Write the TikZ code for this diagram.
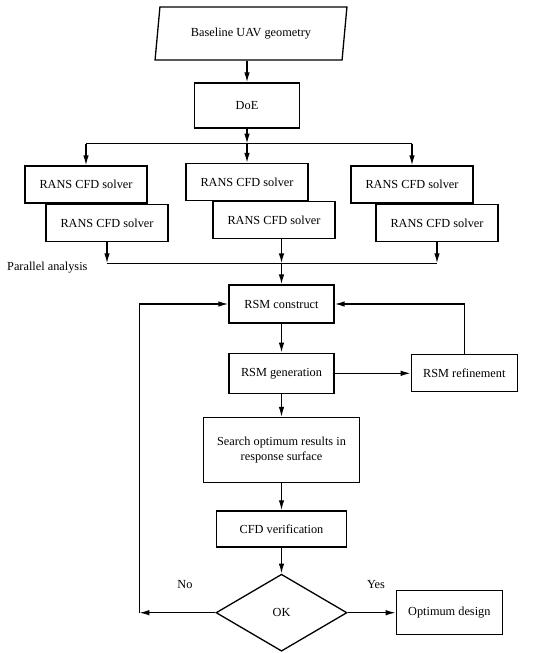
\documentclass[tikz,border=0pt]{standalone}
\usepackage{fontspec}
\setmainfont{Liberation Serif}
\usetikzlibrary{shapes.geometric,arrows.meta,positioning}
\begin{document}
\begin{tikzpicture}[x=1pt,y=-1pt,every node/.style={font=\fontsize{12.3}{14.5}\selectfont},
  box/.style={draw,line width=1.3pt,inner sep=2pt,align=center,fill=white},
  solver/.style={box,minimum width=122pt,minimum height=37pt},
  link/.style={line width=1.3pt,-{Latex[length=10pt,width=5.5pt]}},
  wire/.style={line width=1.3pt}]
\useasboundingbox (0,0) rectangle (550,653);
\node[box,trapezium,trapezium left angle=74,trapezium right angle=106,trapezium stretches=true,
  minimum width=192pt,minimum height=53pt,inner sep=0pt] (geom) at (251,33.5) {Baseline UAV geometry};
\node[box,minimum width=105pt,minimum height=45pt] (doe) at (247,105.5) {DoE};
\coordinate (split) at ([yshift=-15pt]doe.south);
\node[solver] (la) at (86,184.5) {RANS CFD solver};
\node[solver,anchor=north west] (lb) at ([xshift=21pt]la.south west) {RANS CFD solver};
\node[solver] (ma) at (247,182) {RANS CFD solver};
\node[solver,anchor=north west] (mb) at ([xshift=27pt]ma.south west) {RANS CFD solver};
\node[solver] (ra) at (412,184.5) {RANS CFD solver};
\node[solver,anchor=north west] (rb) at ([xshift=25pt]ra.south west) {RANS CFD solver};
\node[anchor=west,inner sep=0pt] (par) at (7,268) {Parallel analysis};
\node[box,minimum width=105pt,minimum height=38pt] (construct) at (281.5,304) {RSM construct};
\coordinate (join) at ([yshift=21pt]construct.north);
\node[box,minimum width=105pt,minimum height=40pt,below=29pt of construct] (gen) {RSM generation};
\node[box,minimum width=106pt,minimum height=37pt,right=76pt of gen] (refine) {RSM refinement};
\node[box,minimum width=156pt,minimum height=65pt,below=23pt of gen] (search) {Search optimum results in\\response surface};
\node[box,minimum width=130pt,minimum height=36pt,below=27pt of search] (verify) {CFD verification};
\node[box,diamond,minimum width=131pt,minimum height=77pt,inner sep=0pt,below=26pt of verify] (ok) {OK};
\node[box,minimum width=106pt,minimum height=44pt,right=48pt of ok] (opt) {Optimum design};
\node (no) at (185,585) {No};
\node (yes) at (376,585) {Yes};
\path (ok.west) ++(-76pt,0) coordinate (back);
\draw[link] (doe.north |- geom.south) -- (doe.north);
\draw[link] (doe.south) -- (split);
\draw[wire] (la.north |- split) -- (ra.north |- split);
\draw[link] (la.north |- split) -- (la.north);
\draw[link] (split) -- (ma.north);
\draw[link] (ra.north |- split) -- (ra.north);
\draw[wire] (lb.south |- join) -- (rb.south |- join);
\draw[link] (lb.south) -- (lb.south |- join);
\draw[link] (rb.south) -- (rb.south |- join);
\draw[link] (mb.south -| construct.north) -- (join);
\draw[link] (join) -- (construct.north);
\draw[link] (construct) -- (gen);
\draw[link] (gen) -- (refine);
\draw[link] (refine.north) |- (construct.east);
\draw[link] (gen) -- (search);
\draw[link] (search) -- (verify);
\draw[link] (verify) -- (ok);
\draw[link] (ok) -- (opt);
\draw[link] (ok.west) -- (back);
\draw[link] (back) |- (construct.west);
\end{tikzpicture}
\end{document}
